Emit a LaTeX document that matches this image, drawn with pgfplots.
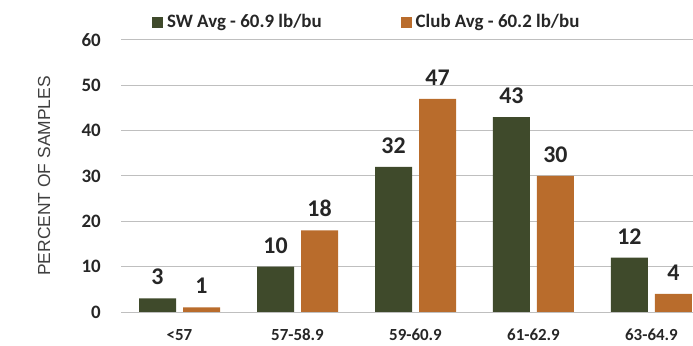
\documentclass[border=0pt]{standalone}
\usepackage{pgfplots}
\pgfplotsset{compat=1.18}
\usepackage{fontspec}
\setmainfont{Carlito}
\newfontfamily\arialfont{Liberation Sans}
\definecolor{swgreen}{RGB}{63,74,43}
\definecolor{cluborange}{RGB}{185,108,44}
\definecolor{gridgray}{RGB}{191,191,191}
\definecolor{txt}{RGB}{38,38,38}
\begin{document}
\begin{tikzpicture}
\useasboundingbox (0,0) rectangle (693bp,346bp);
\begin{axis}[
  at={(121bp,34bp)}, anchor=south west,
  scale only axis, width=572bp, height=272bp,
  ybar=7bp, bar width=37bp,
  xmin=-0.496, xmax=4.352,
  ymin=0, ymax=60,
  ytick={0,10,...,60},
  xtick={0,1,2,3,4},
  xticklabels={{<57},{57-58.9},{59-60.9},{61-62.9},{63-64.9}},
  /pgf/number format/assume math mode=true,
  axis line style={draw=none},
  major tick length=0pt,
  ymajorgrids,
  grid style={draw=gridgray, line width=1bp},
  yticklabel style={font=\bfseries\fontsize{19}{19}\selectfont, text=txt, anchor=east, inner sep=0pt, xshift=-20bp},
  xticklabel style={font=\bfseries\fontsize{17}{17}\selectfont, text=txt, anchor=base, inner sep=0pt, yshift=-28bp},
  ylabel={PERCENT OF SAMPLES},
  ylabel style={font=\arialfont\fontsize{17.5}{17.5}\selectfont, text={rgb,255:red,64;green,64;blue,64}, at={(axis description cs:-0.1346,0.5)}, anchor=center, rotate=0},
  nodes near coords,
  every node near coord/.append style={font=\bfseries\fontsize{24}{24}\selectfont, text=txt, anchor=base, inner sep=0pt, yshift=13.5bp},
  legend columns=2,
  legend style={draw=none, fill=none, at={(axis description cs:0.0542,1.066)}, anchor=west, inner sep=0pt, outer sep=0pt,
    font=\bfseries\fontsize{19}{19}\selectfont, text=txt,
    nodes={inner sep=0pt}, column sep=4bp,
    /tikz/every even column/.append style={column sep=79bp}},
  legend image code/.code={\fill[#1] (0bp,-5.5bp) rectangle (11bp,5.5bp);},
]
\addplot[fill=swgreen, draw=none] coordinates {(0,3) (1,10) (2,32) (3,43) (4,12)};
\addplot[fill=cluborange, draw=none] coordinates {(0,1) (1,18) (2,47) (3,30) (4,4)};
\legend{SW Avg - 60.9 lb/bu, Club Avg - 60.2 lb/bu}
\end{axis}
\end{tikzpicture}
\end{document}
